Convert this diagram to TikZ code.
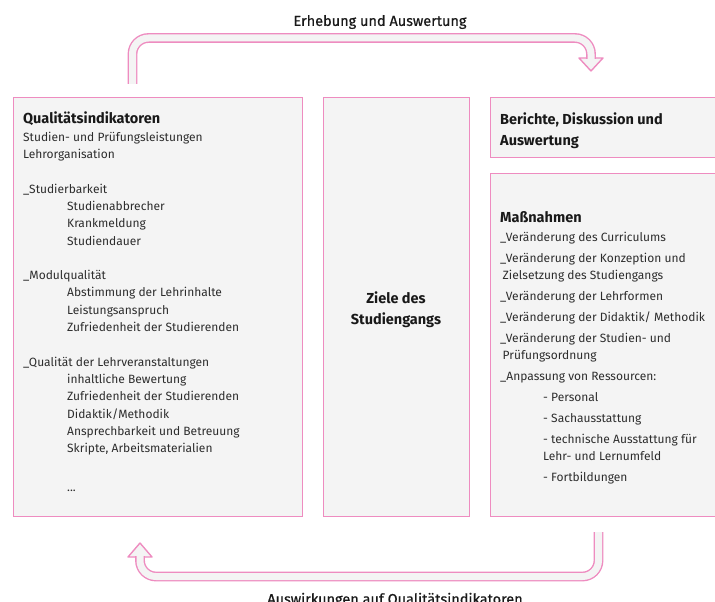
\documentclass[tikz,border=0pt]{standalone}
\usepackage{fontspec}
\setmainfont{Fira Sans}
\newfontfamily\dickfont{Fira Sans}[FakeBold=0.6]
\definecolor{rosa}{RGB}{238,140,192}
\definecolor{hellgrau}{RGB}{244,244,244}
\definecolor{schrift}{RGB}{45,45,45}
\definecolor{titel}{RGB}{25,25,25}

\begin{document}
\begin{tikzpicture}[x=1pt,y=-1pt,
    kasten/.style={draw=rosa, line width=1.2pt, fill=hellgrau, inner sep=0pt, anchor=north west},
    liste/.style={anchor=north west, inner sep=0pt, align=left, text=schrift, font=\fontsize{12}{17.3}\selectfont},
    ueber/.style={text=titel, font=\fontsize{14.5}{21}\selectfont\bfseries, inner sep=0pt},
    pfeil/.style={draw=rosa, line width=1.4pt, double=hellgrau, double distance=7pt, rounded corners=16pt},
    spitze/.style={draw=rosa, line width=1.4pt, fill=hellgrau, line join=round},
    pfeiltext/.style={text=titel, font=\dickfont\fontsize{14.5}{18}\selectfont, inner sep=0pt}]
    \useasboundingbox (0,0) rectangle (715,602);
    % Kaesten
    \node[kasten, minimum width=289pt, minimum height=419pt] (indikatoren) at (13,97) {};
    \node[kasten, minimum width=146pt, minimum height=419pt] (ziele) at (323,97) {};
    \node[kasten, minimum width=240pt, minimum height=60pt] (berichte) at (490,97) {};
    \node[kasten, minimum width=240pt, minimum height=343pt] (massnahmen) at (490,173) {};
    % Texte
    \node[liste] (indtext) at (23,112) {{\bfseries\color{titel}\fontsize{14.5}{17.3}\selectfont Qualitätsindikatoren}\\
        Studien- und Prüfungsleistungen\\
        Lehrorganisation\\[17.3pt]
        \_Studierbarkeit\\
        \hspace*{44pt}Studienabbrecher\\
        \hspace*{44pt}Krankmeldung\\
        \hspace*{44pt}Studiendauer\\[17.3pt]
        \_Modulqualität\\
        \hspace*{44pt}Abstimmung der Lehrinhalte\\
        \hspace*{44pt}Leistungsanspruch\\
        \hspace*{44pt}Zufriedenheit der Studierenden\\[17.3pt]
        \_Qualität der Lehrveranstaltungen\\
        \hspace*{44pt}inhaltliche Bewertung\\
        \hspace*{44pt}Zufriedenheit der Studierenden\\
        \hspace*{44pt}Didaktik/Methodik\\
        \hspace*{44pt}Ansprechbarkeit und Betreuung\\
        \hspace*{44pt}Skripte, Arbeitsmaterialien\\[22pt]
        \hspace*{44pt}...};
    \node[ueber, align=center] (zieletext) at (396,310) {Ziele des\\Studiengangs};
    \node[ueber, align=left, anchor=north west] (berichtetext) at (500,113) {Berichte, Diskussion und\\Auswertung};
    \node[liste, font=\fontsize{12}{17}\selectfont] (masstext) at (500,211) {{\bfseries\color{titel}\fontsize{14.5}{17}\selectfont Maßnahmen}\\[2pt]
        \_Veränderung des Curriculums\\[4pt]
        \_Veränderung der Konzeption und\\
        \hspace*{2.5pt}Zielsetzung des Studiengangs\\[4pt]
        \_Veränderung der Lehrformen\\[4pt]
        \_Veränderung der Didaktik/ Methodik\\[4pt]
        \_Veränderung der Studien- und\\
        \hspace*{2.5pt}Prüfungsordnung\\[4pt]
        \_Anpassung von Ressourcen:\\[4pt]
        \hspace*{43pt}- Personal\\[4pt]
        \hspace*{43pt}- Sachausstattung\\[4pt]
        \hspace*{43pt}- technische Ausstattung für\\
        \hspace*{43pt}Lehr- und Lernumfeld\\[4pt]
        \hspace*{43pt}- Fortbildungen};
    % Pfeile
    \coordinate (obenA) at (132.5,84);
    \coordinate (obenM) at (591,38);
    \coordinate (obenB) at (591,59);
    \draw[spitze] (579,58) -- (603,58) -- (591,71) -- cycle;
    \draw[pfeil] (obenA) |- (obenM) -- (obenB);
    \node[pfeiltext] (erhebung) at (380,22) {Erhebung und Auswertung};
    \coordinate (untenA) at (598.5,532);
    \coordinate (untenM) at (140,576.5);
    \coordinate (untenB) at (140,556);
    \draw[spitze] (128,557) -- (152,557) -- (140,543) -- cycle;
    \draw[pfeil] (untenA) |- (untenM) -- (untenB);
    \node[pfeiltext] (auswirkung) at (395,600) {Auswirkungen auf Qualitätsindikatoren};
\end{tikzpicture}
\end{document}
